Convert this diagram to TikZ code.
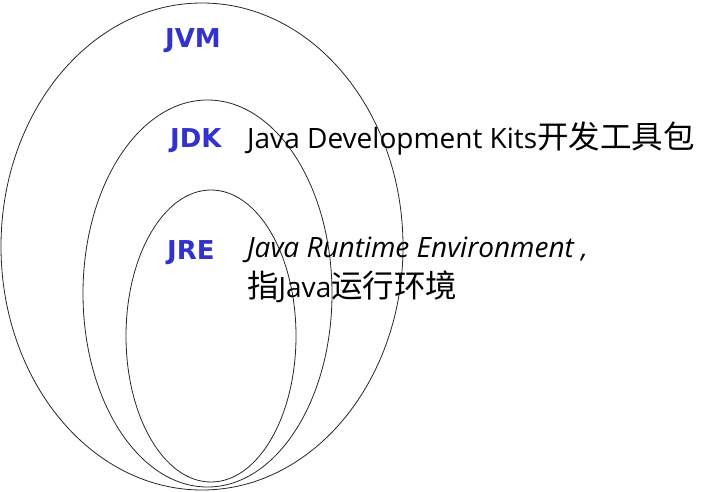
\documentclass[tikz,border=0pt]{standalone}
\usepackage{fontspec}
\setmainfont{Open Sans}
\newfontfamily\cjk{Noto Sans CJK SC}
\newfontfamily\lblfont{DejaVu Sans}
\definecolor{lblblue}{RGB}{51,51,204}
\newcommand{\cj}[1]{{\cjk\fontsize{31.5}{34}\selectfont #1}}
\begin{document}
\begin{tikzpicture}[x=1pt,y=-1pt,
  ring/.style={draw=black!85,line width=0.8pt},
  lbl/.style={anchor=base west,inner sep=0pt,text=lblblue,font=\lblfont\bfseries\fontsize{26}{30}\selectfont},
  desc/.style={anchor=base west,inner sep=0pt,font=\fontsize{28}{34}\selectfont}]
\useasboundingbox (0,0) rectangle (717,492);
\draw[ring] (202,246.5) ellipse [x radius=201, y radius=243.5];
\draw[ring] (207.5,293.5) ellipse [x radius=124.5, y radius=193.5];
\draw[ring] (211,336) ellipse [x radius=85, y radius=146];
\node[lbl] (jvm) at (165,48) {JVM};
\node[lbl] (jdk) at (170,147) {JDK};
\node[lbl] (jre) at (167,259) {JRE};
\node[desc] (jdkdesc) at (247,148) {Java Development Kits\cj{开发工具包}};
\node[desc] (jredesc) at (247,257) {\itshape Java Runtime Environment ,};
\node[desc] (jredesc2) at (247,297) {\cj{指}Java\cj{运行环境}};
\end{tikzpicture}
\end{document}
